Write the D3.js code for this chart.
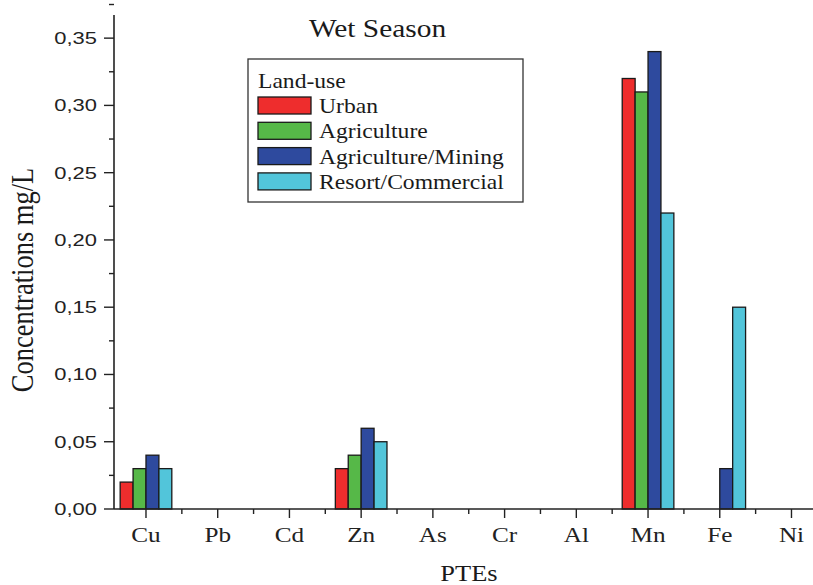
<!DOCTYPE html>
<html>
<head>
<meta charset="utf-8">
<script src="https://cdn.jsdelivr.net/npm/d3@7/dist/d3.min.js"></script>
<style>
  html, body { margin: 0; padding: 0; background: #fff; }
  svg { display: block; }
</style>
</head>
<body>
<svg id="chart" width="813" height="585"></svg>
<script>
// ---- data ----
const categories = ["Cu", "Pb", "Cd", "Zn", "As", "Cr", "Al", "Mn", "Fe", "Ni"];
const seriesNames = ["Urban", "Agriculture", "Agriculture/Mining", "Resort/Commercial"];
const urban        = [0.02, 0, 0, 0.03, 0, 0, 0, 0.32, 0, 0];
const agriculture  = [0.03, 0, 0, 0.04, 0, 0, 0, 0.31, 0, 0];
const agriMining   = [0.04, 0, 0, 0.06, 0, 0, 0, 0.34, 0.03, 0];
const resortComm   = [0.03, 0, 0, 0.05, 0, 0, 0, 0.22, 0.15, 0];
const seriesValues = [urban, agriculture, agriMining, resortComm];
const yTickValues = [0, 0.05, 0.10, 0.15, 0.20, 0.25, 0.30, 0.35];
const colors = ["#ee2d2d", "#56b848", "#2e4a9e", "#52c5da"];

const svg = d3.select("#chart");
const serif = "'Liberation Serif', 'Times New Roman', serif";
const sans = "'Liberation Sans', Arial, sans-serif";

// ---- scales ----
const x = d3.scaleLinear().domain([-0.446, 9.3]).range([114, 813]);
const y = d3.scaleLinear().domain([0, 0.3672]).range([509, 15]);
const bw = x(0.18) - x(0);

// ---- bars ----
const bars = svg.append("g");
seriesValues.forEach((vals, k) => {
  bars.selectAll(null)
    .data(vals.map((v, i) => ({ v, i })).filter(d => d.v > 0))
    .enter().append("rect")
    .attr("x", d => x(d.i) + (k - 2) * bw)
    .attr("y", d => y(d.v))
    .attr("width", bw)
    .attr("height", d => y(0) - y(d.v))
    .attr("fill", colors[k])
    .attr("stroke", "#1a1a1a")
    .attr("stroke-width", 1.3);
});

// ---- y axis ----
const yAxisG = svg.append("g").attr("transform", `translate(${x.range()[0]},0)`);
yAxisG.append("line").attr("x1", 0).attr("x2", 0).attr("y1", y.range()[1]).attr("y2", y(0))
  .attr("stroke", "#222").attr("stroke-width", 1.6);
yAxisG.selectAll(".maj").data(yTickValues).enter().append("line")
  .attr("x1", -10).attr("x2", 0).attr("y1", d => y(d)).attr("y2", d => y(d))
  .attr("stroke", "#222").attr("stroke-width", 1.4);
yAxisG.selectAll(".min").data(yTickValues.map(d => d + 0.025)).enter().append("line")
  .attr("x1", -5).attr("x2", 0).attr("y1", d => y(d)).attr("y2", d => y(d))
  .attr("stroke", "#222").attr("stroke-width", 1.4);
const fmt = d3.format(".2f");
yAxisG.selectAll(".lab").data(yTickValues).enter().append("text")
  .attr("transform", d => `translate(-17,${y(d) + 6}) scale(1.33,1)`)
  .attr("text-anchor", "end")
  .attr("font-family", sans).attr("font-size", 16.5).attr("fill", "#222")
  .text(d => fmt(d).replace(".", ","));

// ---- x axis ----
const xAxisG = svg.append("g").attr("transform", `translate(0,${y(0)})`);
xAxisG.append("line").attr("x1", x.range()[0]).attr("x2", x.range()[1]).attr("y1", 0).attr("y2", 0)
  .attr("stroke", "#222").attr("stroke-width", 1.6);
xAxisG.selectAll(".maj").data(categories.map((c, i) => i)).enter().append("line")
  .attr("x1", d => x(d)).attr("x2", d => x(d)).attr("y1", 0).attr("y2", 9)
  .attr("stroke", "#222").attr("stroke-width", 1.4);
xAxisG.selectAll(".min").data(d3.range(0.5, 9, 1)).enter().append("line")
  .attr("x1", d => x(d)).attr("x2", d => x(d)).attr("y1", 0).attr("y2", 5)
  .attr("stroke", "#222").attr("stroke-width", 1.4);
xAxisG.selectAll(".lab").data(categories).enter().append("text")
  .attr("transform", (d, i) => `translate(${x(i)},33) scale(1.2,1)`)
  .attr("text-anchor", "middle")
  .attr("font-family", serif).attr("font-size", 21).attr("fill", "#222")
  .text(d => d);

// ---- titles ----
svg.append("text")
  .attr("transform", "translate(377.5,37) scale(1.2,1)")
  .attr("text-anchor", "middle").attr("font-family", serif).attr("font-size", 24.5).attr("fill", "#1a1a1a")
  .text("Wet Season");
svg.append("text")
  .attr("transform", "translate(469,581) scale(1.15,1)")
  .attr("text-anchor", "middle").attr("font-family", serif).attr("font-size", 23).attr("fill", "#1a1a1a")
  .text("PTEs");
svg.append("text")
  .attr("transform", "translate(33,280) rotate(-90) scale(1,1.2)")
  .attr("text-anchor", "middle").attr("font-family", serif).attr("font-size", 26.5).attr("fill", "#1a1a1a")
  .text("Concentrations mg/L");

// ---- legend ----
const lg = svg.append("g");
lg.append("rect").attr("x", 248).attr("y", 59).attr("width", 275).attr("height", 143)
  .attr("fill", "#fff").attr("stroke", "#333").attr("stroke-width", 1.3);
lg.append("text").attr("transform", "translate(258,88) scale(1.18,1)")
  .attr("font-family", serif).attr("font-size", 20).attr("fill", "#1a1a1a").text("Land-use");
seriesNames.forEach((name, k) => {
  const top = 97 + k * 25.3;
  lg.append("rect").attr("x", 258).attr("y", top).attr("width", 53).attr("height", 17)
    .attr("fill", colors[k]).attr("stroke", "#1a1a1a").attr("stroke-width", 1.3);
  lg.append("text").attr("transform", `translate(319,${top + 16}) scale(1.18,1)`)
    .attr("font-family", serif).attr("font-size", 20).attr("fill", "#1a1a1a").text(name);
});
</script>
</body>
</html>
